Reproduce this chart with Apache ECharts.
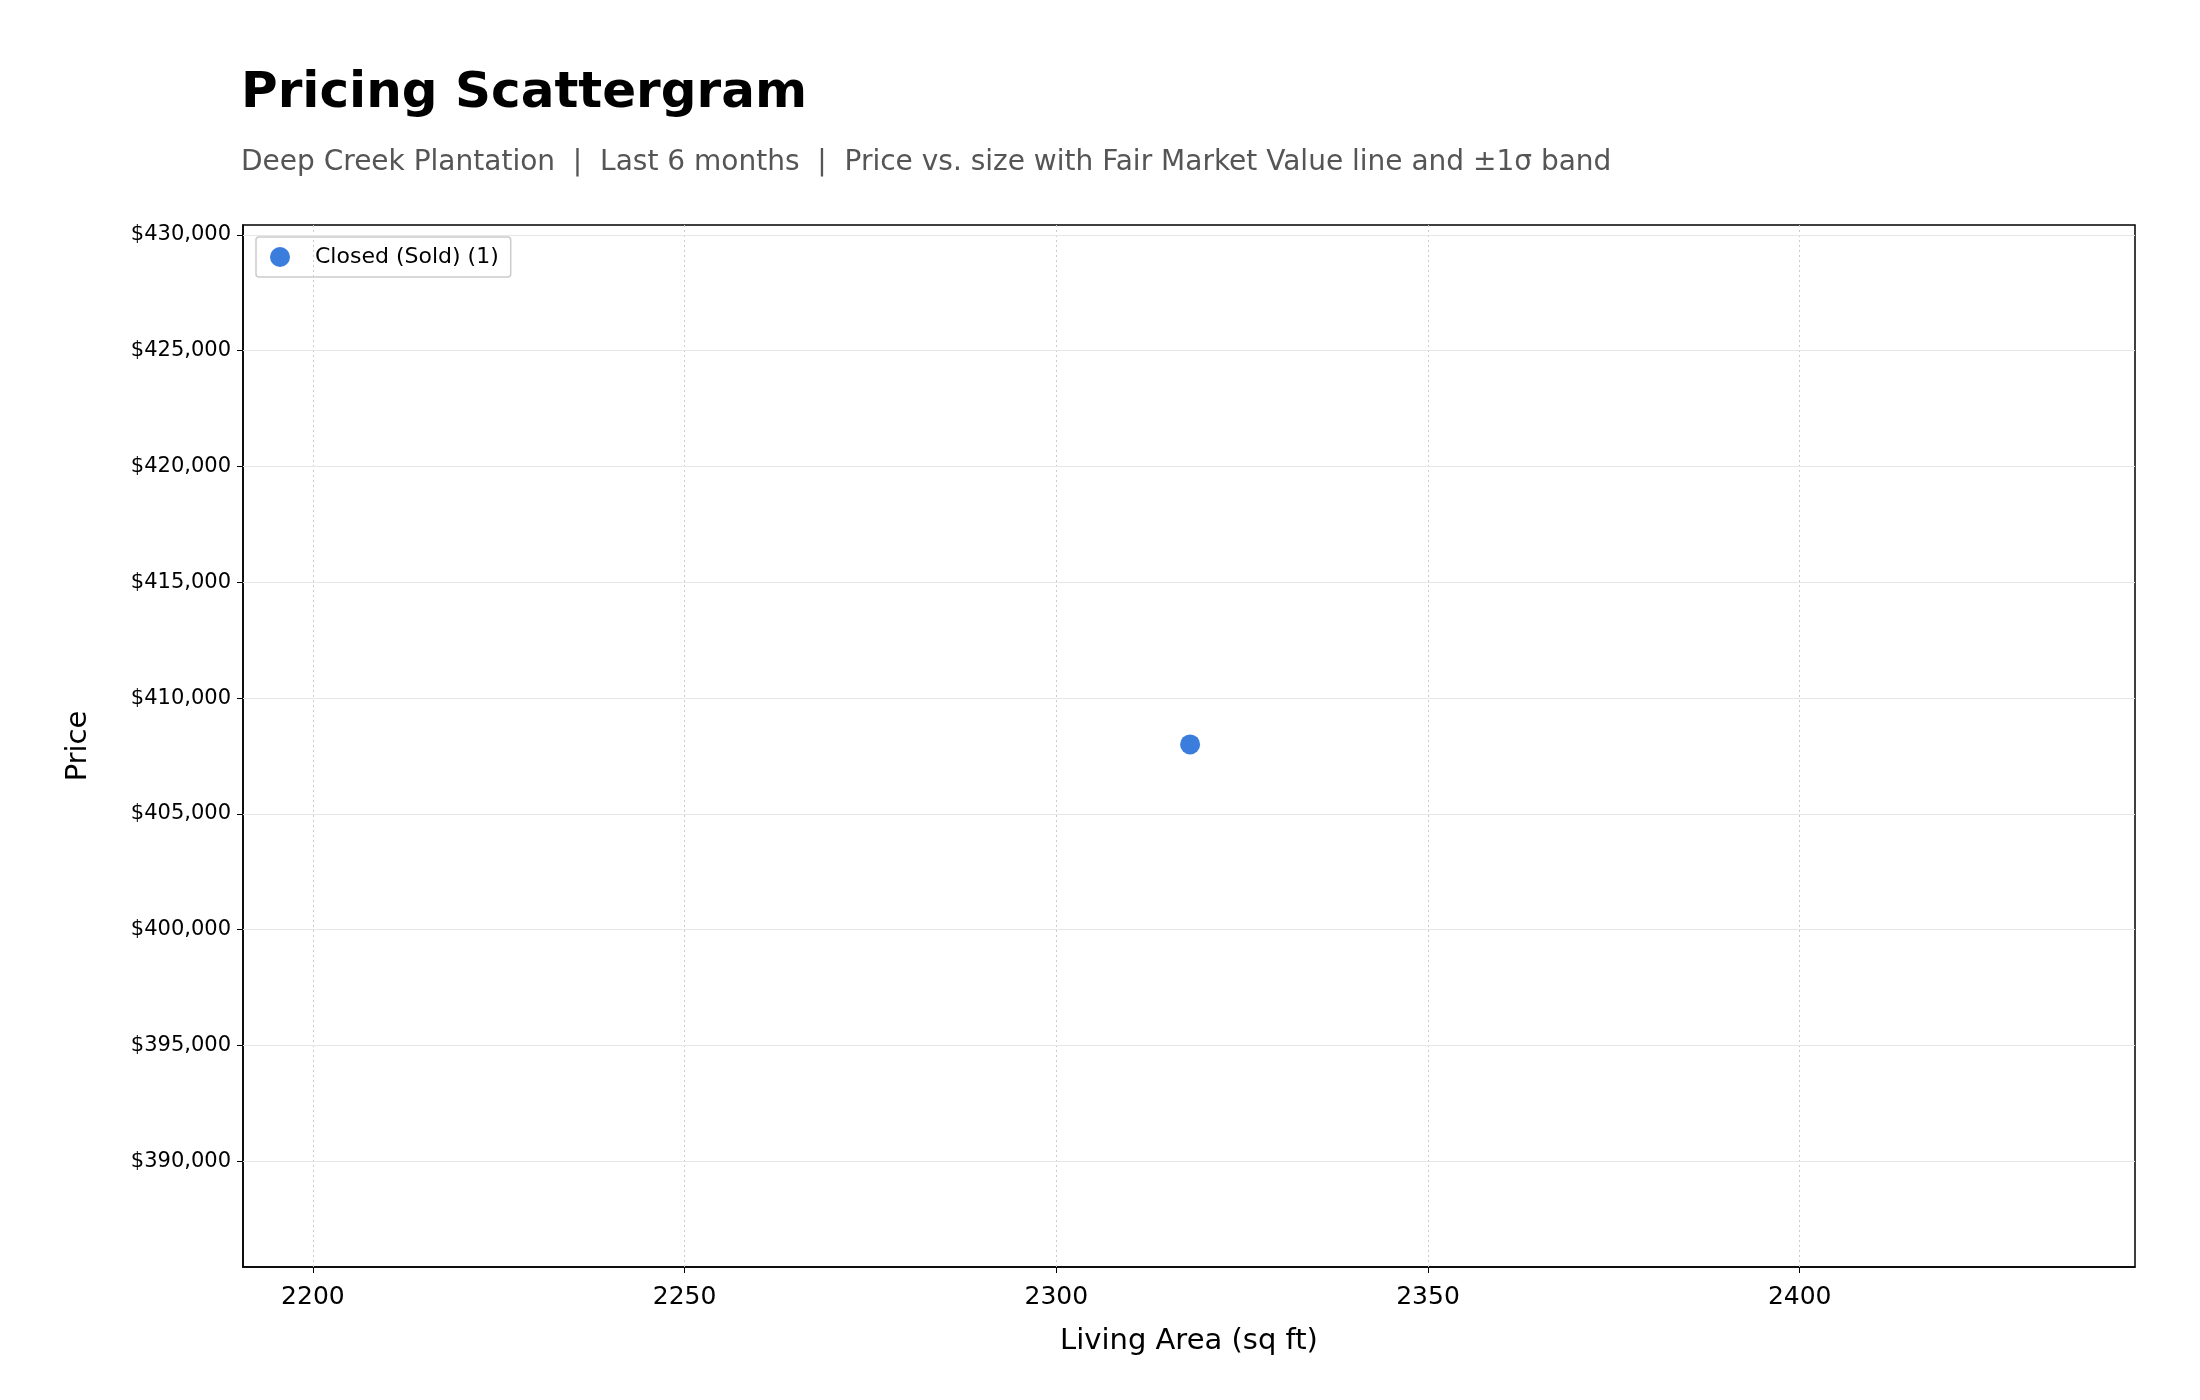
<!DOCTYPE html>
<html><head><meta charset="utf-8">
<script src="https://cdn.jsdelivr.net/npm/echarts@6/dist/echarts.min.js"></script>
<style>html,body{margin:0;background:#fff}#c{width:2200px;height:1400px}</style>
</head><body><div id="c"></div>
<script>
const soldPoints = [[2318, 408000]];
const xTicks = [2200, 2250, 2300, 2350, 2400];
const yTicks = [390000, 395000, 400000, 405000, 410000, 415000, 420000, 425000, 430000];
const xRange = [2190.6, 2445.1];
const yRange = [385430, 430430];
const fmt = v => '$' + v.toLocaleString('en-US');
const chart = echarts.init(document.getElementById('c'));
chart.setOption({
  backgroundColor: '#fff',
  textStyle: {fontFamily: 'DejaVu Sans'},
  title: {
    text: 'Pricing Scattergram', left: 236, top: 64,
    textStyle: {fontSize: 50, fontWeight: 'bold', color: '#000', fontFamily: 'DejaVu Sans'},
    subtext: 'Deep Creek Plantation  |  Last 6 months  |  Price vs. size with Fair Market Value line and ±1σ band',
    subtextStyle: {fontSize: 28, color: '#555', fontFamily: 'DejaVu Sans'}, itemGap: 30
  },
  legend: {
    left: 256, top: 237, padding: [9, 12, 9, 14], itemWidth: 20, itemHeight: 20,
    borderColor: '#ccc', borderWidth: 1.5, borderRadius: 3,
    textStyle: {fontSize: 22, color: '#000', fontFamily: 'DejaVu Sans', padding: [0, 0, 0, 20]},
    data: [{name: 'Closed (Sold) (1)', icon: 'circle'}]
  },
  grid: {left: 243, right: 65, top: 225, bottom: 133, show: true, borderColor: '#000', borderWidth: 1.5},
  xAxis: {
    type: 'value', min: xRange[0], max: xRange[1],
    name: 'Living Area (sq ft)', nameLocation: 'middle', nameGap: 60,
    nameTextStyle: {fontSize: 29, color: '#000'},
    axisLine: {show: true, lineStyle: {color: '#000', width: 1.5}},
    axisTick: {show: true, customValues: xTicks, length: 6, lineStyle: {color: '#000'}},
    axisLabel: {customValues: xTicks, fontSize: 25, color: '#000', margin: 18, formatter: v => String(v)},
    splitLine: {show: false}
  },
  yAxis: {
    type: 'value', min: yRange[0], max: yRange[1],
    name: 'Price', nameLocation: 'middle', nameGap: 150,
    nameTextStyle: {fontSize: 29, color: '#000'},
    axisLine: {show: true, lineStyle: {color: '#000', width: 1.5}},
    axisTick: {show: true, customValues: yTicks, length: 6, lineStyle: {color: '#000'}},
    axisLabel: {customValues: yTicks, fontSize: 21, color: '#000', formatter: fmt, margin: 12},
    splitLine: {show: false}
  },
  series: [
    {
      type: 'scatter', name: 'grid', data: [], silent: true, legendHoverLink: false,
      markLine: {
        silent: true, symbol: 'none', label: {show: false}, animation: false,
        data: xTicks.map(v => ({xAxis: v, lineStyle: {color: '#ccc', type: [2, 3], width: 1}}))
          .concat(yTicks.map(v => ({yAxis: v, lineStyle: {color: '#e6e6e6', type: 'solid', width: 1.2}})))
      }
    },
    {
      type: 'scatter', name: 'Closed (Sold) (1)', data: soldPoints, symbolSize: 20,
      itemStyle: {color: '#3b7ddd', opacity: 1}, z: 5
    }
  ]
});
</script></body></html>
